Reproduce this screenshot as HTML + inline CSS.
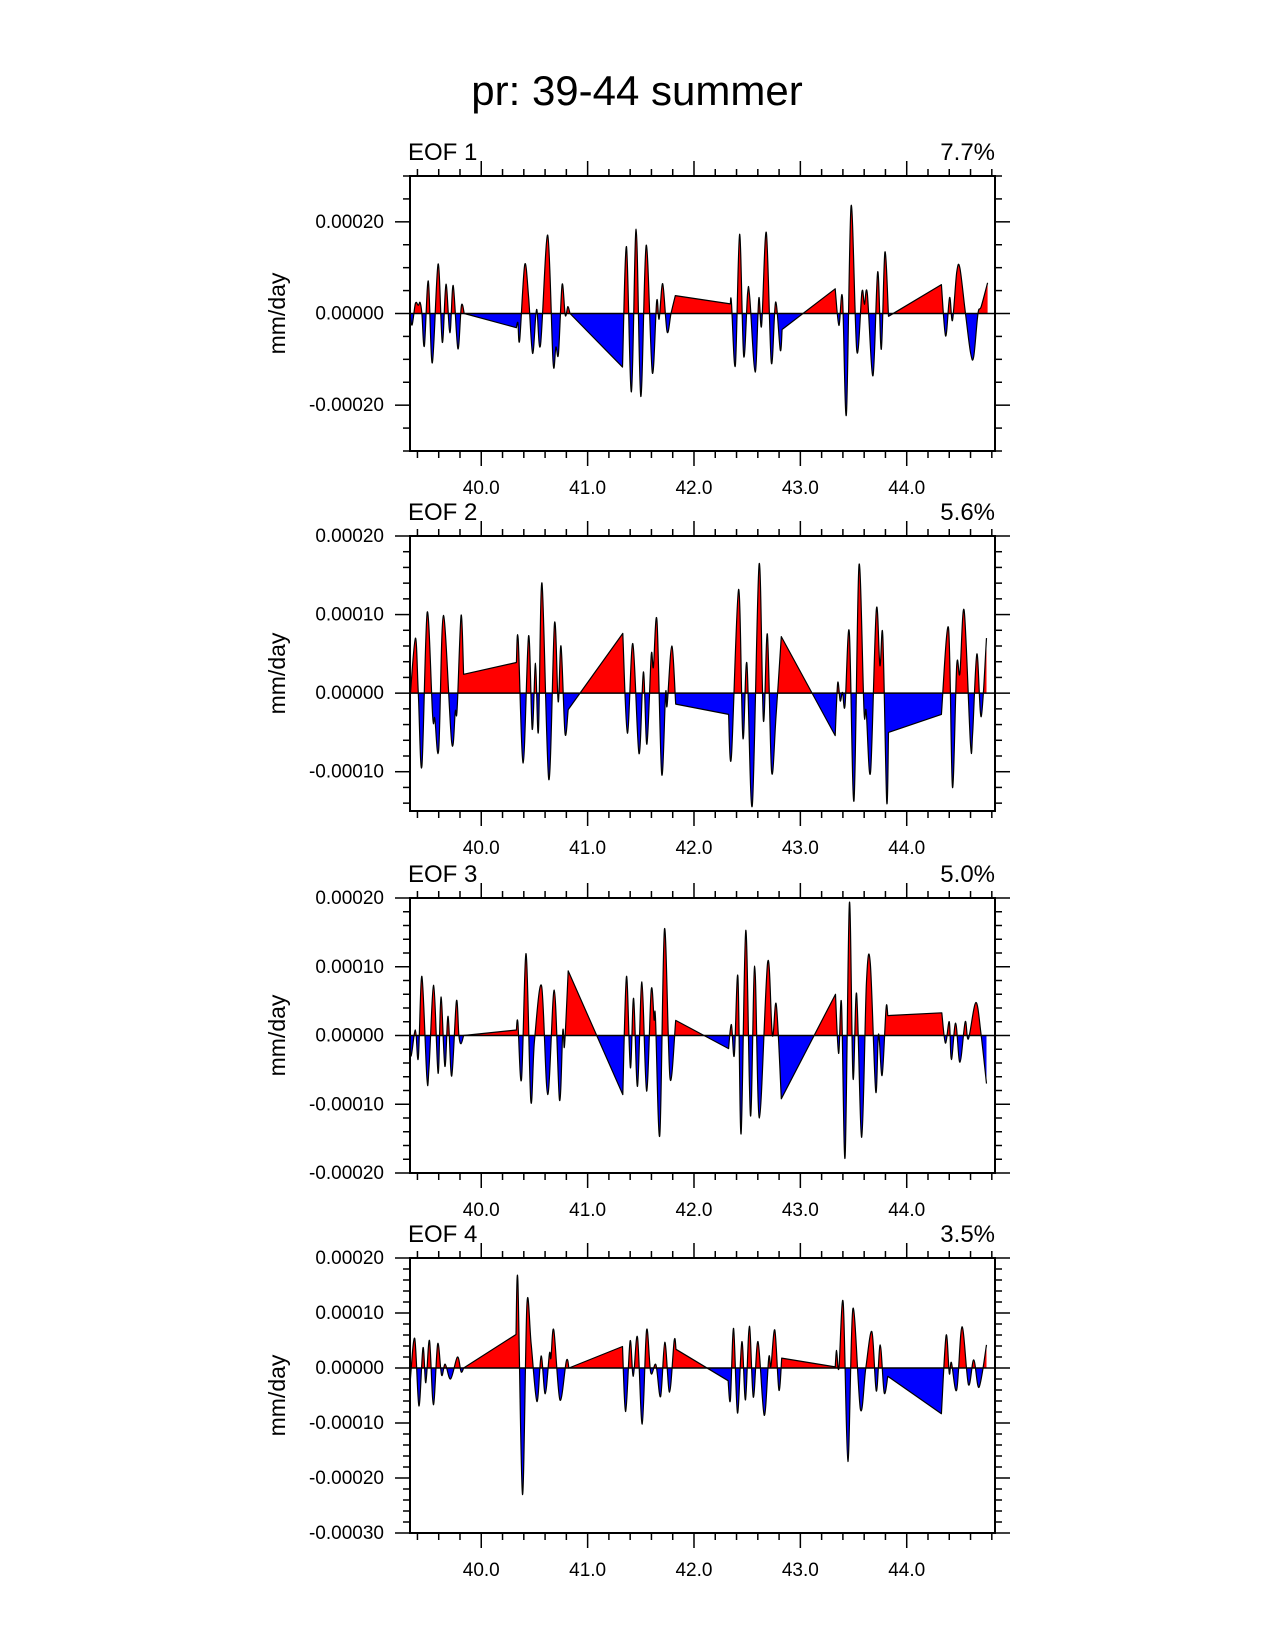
<!DOCTYPE html>
<html><head><meta charset="utf-8"><style>
body{margin:0;background:#fff;}
svg{display:block;font-family:"Liberation Sans",sans-serif;}
</style></head><body>
<svg id="chart" width="1275" height="1650" viewBox="0 0 1275 1650" xmlns="http://www.w3.org/2000/svg">
<text x="637" y="105" font-size="42" text-anchor="middle">pr: 39-44 summer</text>
</svg>
<script>
// values in units of 1e-5 mm/day
const t1=[39.33,39.35,39.381,39.408,39.425,39.442,39.465,39.502,39.54,39.594,39.634,39.668,39.705,39.736,39.78,39.813,39.84,40.33,40.344,40.361,40.408,40.445,40.483,40.52,40.557,40.625,40.675,40.702,40.726,40.76,40.79,40.814,40.834,41.328,41.365,41.412,41.456,41.5,41.551,41.608,41.649,41.672,41.706,41.747,41.784,41.824,42.342,42.352,42.389,42.429,42.467,42.504,42.524,42.575,42.609,42.636,42.68,42.727,42.767,42.811,42.828,43.328,43.362,43.396,43.433,43.477,43.531,43.579,43.602,43.629,43.683,43.727,43.761,43.795,43.829,44.326,44.366,44.403,44.43,44.47,44.5,44.55,44.6,44.63,44.67,44.7,44.76];
const v1=[0,-2.5,2.2,1.8,2.4,0,-7.1,7.1,-10.8,10.8,-6.3,6.4,-4.2,6.1,-7.7,1.7,0,-3.1,-2,-5.8,10.6,3.6,-8.7,0.9,-6.9,17.1,-10.7,-7.3,-8.7,6.3,-0.4,1.5,0,-11.7,14.6,-17.1,18.4,-18.1,14.9,-12.9,2.7,-1.2,6.5,-4,0,3.9,2.1,2.5,-11.3,17.3,-9.3,4.4,3.6,-12.8,3.3,-2.6,17.7,-10.7,2.5,-8,-3.5,5.4,-2.6,3.5,-22,23.5,-8.2,4.7,2,4.4,-13.6,9.1,-7.8,13.4,-0.6,6.3,-4.9,3.5,-1.5,9,9.9,0.5,-8.5,-9.4,0,1.5,6.7];
const t2=[39.33,39.381,39.408,39.442,39.492,39.543,39.563,39.6,39.644,39.722,39.756,39.773,39.81,39.834,40.33,40.347,40.394,40.445,40.479,40.51,40.537,40.571,40.635,40.689,40.723,40.75,40.787,40.817,41.331,41.374,41.425,41.483,41.524,41.557,41.598,41.618,41.652,41.696,41.733,41.747,41.791,41.828,42.325,42.352,42.419,42.46,42.497,42.548,42.612,42.653,42.69,42.73,42.771,42.821,43.328,43.351,43.375,43.396,43.42,43.46,43.504,43.551,43.598,43.619,43.66,43.714,43.748,43.775,43.812,43.829,44.326,44.393,44.43,44.47,44.5,44.54,44.6,44.62,44.66,44.7,44.75];
const v2=[-0.8,7,0,-9.3,10.3,-3,-3.2,-7.2,9.9,-6.3,-2.3,-2.1,9.9,2.4,3.9,6.9,-8.9,7.3,-4.6,3.8,-4.9,14,-11,8.9,-1.1,6,-5.1,-2.1,7.6,-5.1,6.3,-7.7,2.7,-6.5,4.8,3.3,9.2,-10.3,0,-1.6,6,-1.4,-2.7,-8.1,13.2,-5.7,3.8,-14.3,16.4,-3.5,7.5,-10,-3,7.2,-5.4,1.3,-1,0.1,-1.6,7.8,-13.7,16.3,-2.2,-2.3,-10,10.6,3.5,7.3,-13.8,-5,-2.7,8.3,-12,3.5,2.5,10.5,-6.5,-5,5,-3,7];
const t3=[39.33,39.34,39.381,39.408,39.442,39.489,39.509,39.553,39.594,39.621,39.658,39.688,39.722,39.766,39.79,39.81,39.834,40.33,40.344,40.378,40.422,40.466,40.5,40.567,40.625,40.686,40.736,40.767,40.783,40.817,41.331,41.365,41.402,41.432,41.469,41.51,41.554,41.598,41.625,41.638,41.679,41.723,41.774,41.828,42.325,42.352,42.379,42.413,42.443,42.487,42.531,42.571,42.615,42.693,42.737,42.774,42.821,43.33,43.36,43.387,43.421,43.461,43.495,43.529,43.577,43.621,43.658,43.708,43.735,43.769,43.806,43.822,44.33,44.364,44.4,44.42,44.46,44.5,44.55,44.58,44.65,44.7,44.75];
const v3=[0,-3,0.8,-3.3,8.6,-6.2,-4.7,7.3,-5.5,5.6,-4.5,2.8,-5.9,5,0,-1.2,0,0.8,1.9,-6.4,11.9,-9.5,-0.9,7.2,-8.6,6.6,-9.4,0.7,-1.5,9.4,-8.6,8.6,-4.7,5.4,-7.4,7.8,-8.1,6.6,2.3,2.5,-14.5,15.5,-6.2,2.2,-1.9,1.6,-2.9,8.6,-14.3,15.3,-11.7,10.1,-12,10.7,0,4.5,-9.2,6,-2.6,4.7,-17.7,19.3,-6.2,6.1,-14.8,7.6,10.5,-8.1,0.2,-5.8,4,2.9,3.3,-1.1,2,-3.5,1.8,-3.9,2,-0.5,4.8,0,-7];
const t4=[39.33,39.374,39.414,39.452,39.479,39.513,39.55,39.59,39.627,39.661,39.712,39.776,39.81,39.834,40.327,40.344,40.388,40.429,40.469,40.523,40.563,40.601,40.641,40.655,40.682,40.739,40.8,40.824,41.328,41.358,41.399,41.429,41.469,41.513,41.554,41.594,41.642,41.686,41.726,41.77,41.814,41.831,42.321,42.342,42.372,42.409,42.45,42.484,42.521,42.558,42.602,42.66,42.703,42.723,42.76,42.798,42.825,43.328,43.341,43.362,43.403,43.447,43.494,43.565,43.615,43.673,43.714,43.751,43.788,43.822,44.326,44.37,44.4,44.42,44.47,44.52,44.58,44.63,44.68,44.75];
const v4=[-2.9,5.4,-6.9,3.7,-2.7,5,-6.7,4.4,-1.3,0.7,-2,2,-0.7,0,6.1,15.8,-23,11.5,4.5,-6.1,2.2,-4.7,2.6,1.8,6.9,-5.8,1.3,0,3.9,-7.9,4.9,-1.5,5.6,-10.2,6.9,-0.9,0.6,-5.2,4.7,-4.4,5,3.4,-2.3,-5.8,7.2,-8.2,4.8,-5.8,7.6,-5.3,4.8,-8.6,1.9,0.3,6.9,-4,1.8,0.2,3.2,0,11.9,-17,10.8,-7.5,0,6.6,-4.2,4.2,-4.5,-1.5,-8.3,5.9,-1,1,-4,7.5,-3,1.5,-3.5,4.2];
const eofLabels=["EOF 1","EOF 2","EOF 3","EOF 4"];
const pctLabels=["7.7%","5.6%","5.0%","3.5%"];
const yMins=[-30,-15,-20,-30];
const yMaxs=[30,20,20,20];
const yMajorSteps=[20,10,10,10];
const yMinorSteps=[5,2,2,2];
const xTickLabels=["40.0","41.0","42.0","43.0","44.0"];
const xMin=39.33, xMax=44.83;

const NS="http://www.w3.org/2000/svg";
const svg=document.getElementById('chart');
function mk(tag,attrs,parent){const e=document.createElementNS(NS,tag);for(const k in attrs)e.setAttribute(k,attrs[k]);(parent||svg).appendChild(e);return e;}
const L=410,R=995,tops=[176,536,898,1258],H=275;
const series=[[t1,v1],[t2,v2],[t3,v3],[t4,v4]];
function fmt(v){const s=(Math.abs(v)*1e-5).toFixed(5);return (v<-1e-9?"-":"")+s;}
function curve(ts,P){
  let d='';
  const n=P.length;
  const near=(i,j)=>j>=0&&j<n&&Math.abs(ts[j]-ts[i])<0.1;
  for(let i=0;i<n-1;i++){
    const a=P[i],b=P[i+1];
    if(!near(i,i+1)){d+=' L'+b[0].toFixed(1)+','+b[1].toFixed(1);continue;}
    const pa=near(i,i-1)?P[i-1]:a, pb=near(i+1,i+2)?P[i+2]:b;
    const c1=[a[0]+(b[0]-pa[0])/6,a[1]+(b[1]-pa[1])/6];
    const c2=[b[0]-(pb[0]-a[0])/6,b[1]-(pb[1]-a[1])/6];
    d+=' C'+c1[0].toFixed(1)+','+c1[1].toFixed(1)+' '+c2[0].toFixed(1)+','+c2[1].toFixed(1)+' '+b[0].toFixed(1)+','+b[1].toFixed(1);
  }
  return d;
}
series.forEach(([ts,vs],p)=>{
  const T=tops[p],B=T+H;
  const xs=t=>L+(t-xMin)/(xMax-xMin)*(R-L);
  const ys=v=>B-(v-yMins[p])/(yMaxs[p]-yMins[p])*H;
  const g=mk('g',{});
  
  
  const y0=ys(0);
  const cid='c'+p;
  const defs=mk('defs',{},g);
  const cu=mk('clipPath',{id:cid+'u'},defs);mk('rect',{x:L,y:T,width:R-L,height:y0-T},cu);
  const cd=mk('clipPath',{id:cid+'d'},defs);mk('rect',{x:L,y:y0,width:R-L,height:B-y0},cd);
  const P=ts.map((t,i)=>[xs(t),ys(vs[i])]);
  const body=curve(ts,P);
  const start=P[0][0].toFixed(1)+','+P[0][1].toFixed(1);
  const area='M'+P[0][0].toFixed(1)+','+y0+' L'+start+body+' L'+P[P.length-1][0].toFixed(1)+','+y0+'Z';
  const pos=mk('path',{d:area,fill:'#ff0000','clip-path':'url(#'+cid+'u)'},g);
  
  
  const neg=mk('path',{d:area,fill:'#0000ff','clip-path':'url(#'+cid+'d)'},g);
  
  
  const zl=mk('line',{x1:L,x2:R,y1:y0,y2:y0,stroke:'#000','stroke-width':1.5},g);
  
  
  const ln=mk('path',{d:'M'+start+body,fill:'none',stroke:'#000','stroke-width':1.2,'stroke-linejoin':'round'},g);
  
  
  const box=mk('rect',{x:L,y:T,width:R-L,height:H,fill:'none',stroke:'#000','stroke-width':2},g);
  
  
  const st=yMinorSteps[p];
  for(let k=Math.ceil(yMins[p]/st);k*st<=yMaxs[p];k++){
    const v=k*st;
    const y=ys(v);const major=(v%yMajorSteps[p])===0;const len=major?15:7;
    mk('line',{x1:L-len,x2:L,y1:y,y2:y,stroke:'#000','stroke-width':1.5},g);
    mk('line',{x1:R,x2:R+len,y1:y,y2:y,stroke:'#000','stroke-width':1.5},g);
    if(major){const tx=mk('text',{x:L-26,y:y+6,'font-size':19,'text-anchor':'end'},g);tx.textContent=fmt(v);
      
      }
  }
  for(let k=197;k<=224;k++){
    const t=k/5;if(t<xMin||t>xMax)continue;const x=xs(t);const major=k%5===0;const len=major?15:7;
    mk('line',{x1:x,x2:x,y1:T-len,y2:T,stroke:'#000','stroke-width':1.5},g);
    mk('line',{x1:x,x2:x,y1:B,y2:B+len,stroke:'#000','stroke-width':1.5},g);
  }
  xTickLabels.forEach(lb=>{const tx=mk('text',{x:xs(parseFloat(lb)),y:B+43,'font-size':19,'text-anchor':'middle'},g);tx.textContent=lb;
    
    });
  const ya=mk('text',{x:0,y:0,'font-size':23,'text-anchor':'middle',transform:'translate(285,'+(T+H/2)+') rotate(-90)'},g);ya.textContent='mm/day';
  
  
  const et=mk('text',{x:L-2,y:T-16,'font-size':24},g);et.textContent=eofLabels[p];
  
  
  const pt=mk('text',{x:R,y:T-16,'font-size':24,'text-anchor':'end'},g);pt.textContent=pctLabels[p];
  
  
});
</script>
</body></html>
